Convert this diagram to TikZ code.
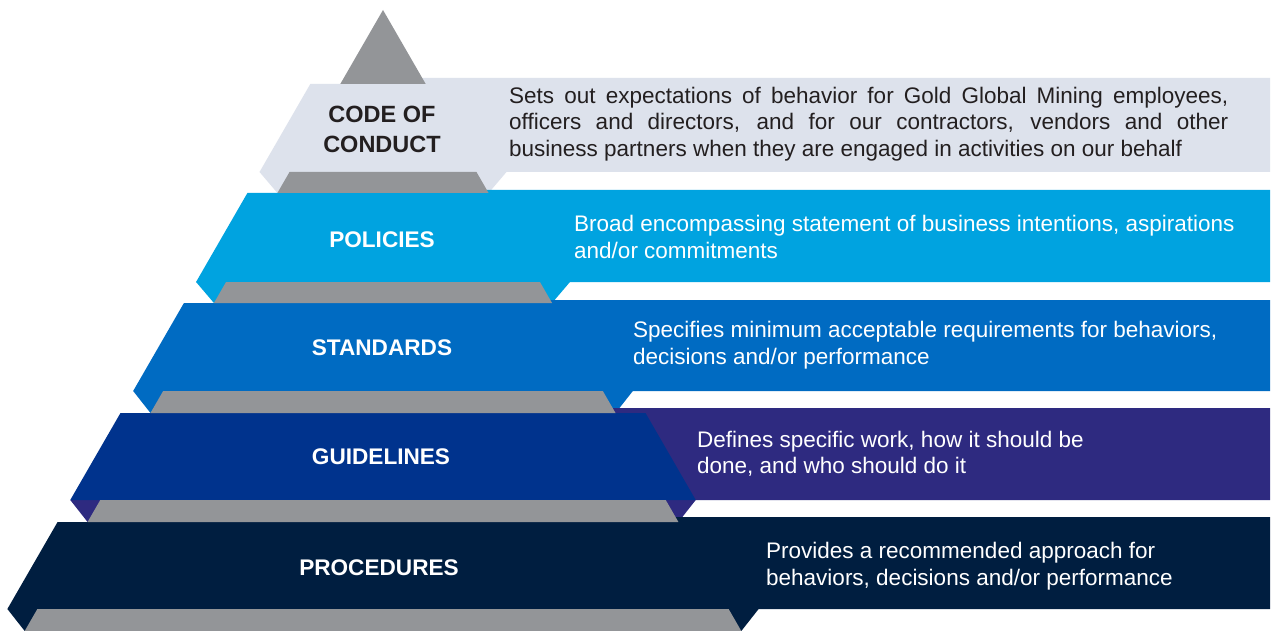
\documentclass[tikz,border=0pt]{standalone}
\usepackage{fontspec}
\setmainfont{Liberation Sans}
\definecolor{pyrgray}{HTML}{939598}
\definecolor{cocband}{HTML}{DDE2EC}
\definecolor{polband}{HTML}{00A3E0}
\definecolor{stdband}{HTML}{006BC2}
\definecolor{guiface}{HTML}{00338D}
\definecolor{guistrip}{HTML}{2E2A80}
\definecolor{proband}{HTML}{001E40}
\definecolor{darktext}{HTML}{231F20}
\newcommand{\pyrL}[1]{383-0.577*(#1-10)}
\newcommand{\pyrR}[1]{383+0.577*(#1-10)}
% #1 strip top, #2 face top, #3 face bottom, #4 gray bottom, #5 face colour, #6 strip colour
\newcommand{\mkband}[6]{%
  \pgfmathsetmacro\bTL{383-0.577*(#2-10)-30}%
  \pgfmathsetmacro\bTR{383+0.577*(#2-10)+30}%
  \pgfmathsetmacro\bML{383-0.577*(#3-10)-30}%
  \pgfmathsetmacro\bMR{383+0.577*(#3-10)+30}%
  \pgfmathsetmacro\bBL{383-0.577*(#4-10)}%
  \pgfmathsetmacro\bBR{383+0.577*(#4-10)}%
  \fill[#6] (\bML,#3) -- (\bBL,#4) -- (\bBR,#4) -- (\bMR,#3) -- (1270,#3)
     -- (1270,#1) -- (383,#1) -- (383,#3) -- cycle;
  \fill[#5] (\bTL,#2) -- (\bTR,#2) -- (\bMR,#3) -- (\bML,#3) -- cycle;
}
\newcommand{\mkgray}[2]{%
  \pgfmathsetmacro\gTL{383-0.577*(#1-10)}%
  \pgfmathsetmacro\gTR{383+0.577*(#1-10)}%
  \pgfmathsetmacro\gBL{383-0.577*(#2-10)}%
  \pgfmathsetmacro\gBR{383+0.577*(#2-10)}%
  \fill[pyrgray] (\gTL,#1) -- (\gTR,#1) -- (\gBR,#2) -- (\gBL,#2) -- cycle;
}
\tikzset{
  lbl/.style={font=\fontsize{22.6}{30}\selectfont\bfseries, text=white, align=center, inner sep=0pt},
  desc/.style={font=\fontsize{22.5}{26.5}\selectfont, text=white, align=left, anchor=west, inner sep=0pt},
}
\begin{document}
\begin{tikzpicture}[x=1pt,y=-1pt]
\useasboundingbox (0,0) rectangle (1272,631);
\fill[white] (0,0) rectangle (1272,631);
% bands
\mkband{78}{84}{172}{193}{cocband}{cocband}
\mkband{190}{193}{282}{303}{polband}{polband}
\mkband{300}{303}{391}{413}{stdband}{stdband}
\mkband{408}{413}{500}{522}{guiface}{guistrip}
\mkband{517}{522}{609}{631}{proband}{proband}
% gray pyramid pieces
\fill[pyrgray] (383,10) -- ({\pyrR{84}},84) -- ({\pyrL{84}},84) -- cycle;
\mkgray{172}{193}
\mkgray{282}{303}
\mkgray{391}{413}
\mkgray{500}{522}
\mkgray{609}{631}
% labels
\node[lbl, text=darktext, font=\fontsize{23.5}{30}\selectfont\bfseries] (coc) at (382,129) {CODE OF\\CONDUCT};
\node[lbl] (pol) at (382,240) {POLICIES};
\node[lbl] (std) at (382,348) {STANDARDS};
\node[lbl] (gui) at (381,457) {GUIDELINES};
\node[lbl] (pro) at (379,568) {PROCEDURES};
% descriptions
\node[desc, text=darktext] (cocd) at (509,124) {\makebox[719pt][s]{Sets out expectations of behavior for Gold Global Mining employees,}\\
\makebox[719pt][s]{officers and directors, and for our contractors, vendors and other}\\
business partners when they are engaged in activities on our behalf};
\node[desc] (pold) at (574,237) {Broad encompassing statement of business intentions, aspirations\\and/or commitments};
\node[desc] (stdd) at (633,345) {Specifies minimum acceptable requirements for behaviors,\\decisions and/or performance};
\node[desc] (guid) at (697,454) {Defines specific work, how it should be\\done, and who should do it};
\node[desc] (prod) at (766,566) {Provides a recommended approach for\\behaviors, decisions and/or performance};
\end{tikzpicture}
\end{document}
